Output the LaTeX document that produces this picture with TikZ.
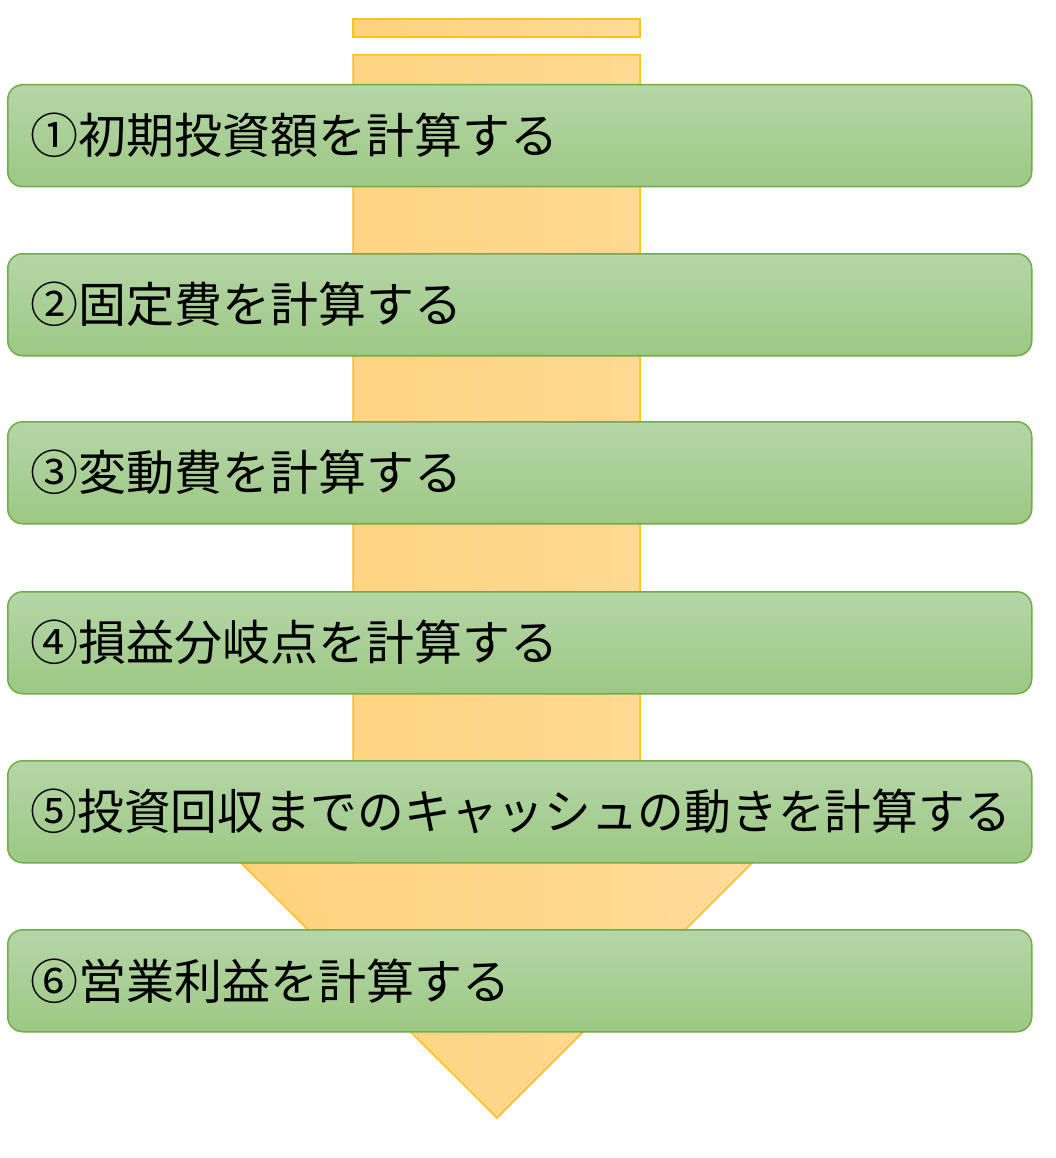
\documentclass[tikz,border=0pt]{standalone}
\usepackage{fontspec}
\usepackage{graphicx}
\newfontfamily\jpfont{Noto Sans CJK JP}
\definecolor{boxtop}{HTML}{B5D6A7}
\definecolor{boxbot}{HTML}{9CC884}
\definecolor{boxline}{HTML}{70AD47}
\definecolor{arrL}{HTML}{FFD27C}
\definecolor{arrR}{HTML}{FFDB98}
\definecolor{arrline}{HTML}{FFC21A}
\tikzset{
  stepbox/.style={draw=boxline, line width=1.5pt, rounded corners=15pt,
    top color=boxtop, bottom color=boxbot,
    minimum width=1024pt, minimum height=102pt, text width=978pt,
    inner xsep=23pt, align=left, font=\jpfont\fontsize{48pt}{56pt}\selectfont,
    anchor=north west},
  arrowpart/.style={draw=arrline, line width=1.5pt, left color=arrL, right color=arrR}
}
\begin{document}
\begin{tikzpicture}[x=1pt,y=-1pt]
\useasboundingbox (0,0) rectangle (1056,1158);
\coordinate (s1) at (353,19);
\coordinate (s2) at (640,37);
\draw[arrowpart] (s1) rectangle (s2);
\coordinate (a1) at (353,55);
\coordinate (a2) at (640,55);
\coordinate (a3) at (640,863);
\coordinate (a4) at (752,863);
\coordinate (tip) at (497,1118);
\coordinate (a6) at (241,863);
\coordinate (a7) at (353,863);
\draw[arrowpart] (a1) -- (a2) -- (a3) -- (a4) -- (tip) -- (a6) -- (a7) -- cycle;
\node[stepbox] (b1) at (7,84) {①初期投資額を計算する};
\node[stepbox] (b2) at (7,253) {②固定費を計算する};
\node[stepbox] (b3) at (7,421) {③変動費を計算する};
\node[stepbox] (b4) at (7,591) {④損益分岐点を計算する};
\node[stepbox] (b5) at (7,760) {\scalebox{0.973}[1]{⑤投資回収までのキャッシュの動きを計算する}};
\node[stepbox] (b6) at (7,929) {⑥営業利益を計算する};
\end{tikzpicture}
\end{document}
